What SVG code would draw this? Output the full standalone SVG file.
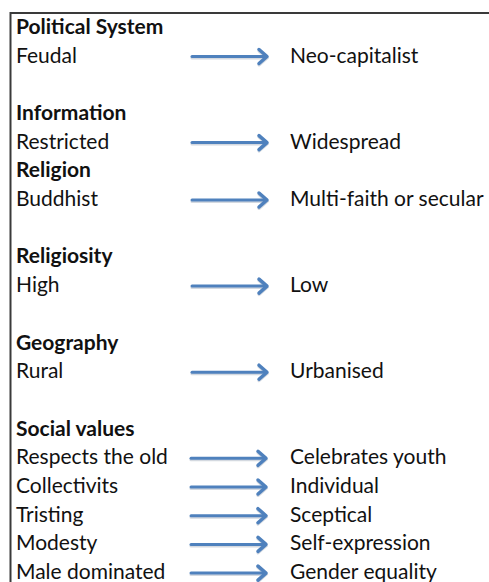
<svg xmlns="http://www.w3.org/2000/svg" width="489" height="582" viewBox="0 0 489 582">
<style>
text{font-family:Lato,"Open Sans","Liberation Sans",sans-serif;font-size:21px;fill:#111}
.h{font-weight:bold}
.sh{stroke:#4f81bd;stroke-width:3;fill:none;stroke-linecap:round}
.hd{stroke:#4f81bd;stroke-width:3.5;fill:none;stroke-linecap:round;stroke-linejoin:round}
.sd{stroke:#b8c0cc;stroke-width:3;fill:none;opacity:0.6;stroke-linecap:round}
</style>
<defs>
<g id="arr">
<path class="sd" d="M192,1.5 L266,1.5 M259,-5.5 L267,1.5 L259,8.5"/>
<path class="sh" d="M192,0 L265,0"/>
<path class="hd" d="M259,-7 L267,0 L259,7"/>
</g>
</defs>
<rect width="489" height="582" fill="#fff"/>
<g id="frame"><path d="M10.5,582 L10.5,13 L489,13" fill="none" stroke="#3a3a3a" stroke-width="2"/></g>
<g id="political"><text class="h" x="16" y="33.8">Political System</text><text x="16" y="62.5">Feudal</text><text x="290" y="62.5">Neo-capitalist</text></g>
<g id="information"><text class="h" x="16" y="119.9">Information</text><text x="16" y="148.6">Restricted</text><text x="290" y="148.6">Widespread</text></g>
<g id="religion"><text class="h" x="16" y="177.3">Religion</text><text x="16" y="206">Buddhist</text><text x="290" y="206">Multi-faith or secular</text></g>
<g id="religiosity"><text class="h" x="16" y="263.4">Religiosity</text><text x="16" y="292.1">High</text><text x="290" y="292.1">Low</text></g>
<g id="geography"><text class="h" x="16" y="349.5">Geography</text><text x="16" y="378.2">Rural</text><text x="290" y="378.2">Urbanised</text></g>
<g id="social"><text class="h" x="16" y="435.6">Social values</text>
<text x="16" y="464.3">Respects the old</text><text x="290" y="464.3">Celebrates youth</text>
<text x="16" y="493">Collectivits</text><text x="290" y="493">Individual</text>
<text x="16" y="521.7">Tristing</text><text x="290" y="521.7">Sceptical</text>
<text x="16" y="550.4">Modesty</text><text x="290" y="550.4">Self-expression</text>
<text x="16" y="579.1">Male dominated</text><text x="290" y="579.1">Gender equality</text></g>
<g id="connectors">
<use href="#arr" y="56.5"/>
<use href="#arr" y="142.6"/>
<use href="#arr" y="200"/>
<use href="#arr" y="286.1"/>
<use href="#arr" y="372.2"/>
<use href="#arr" x="-1" y="458.3"/>
<use href="#arr" x="-1" y="487"/>
<use href="#arr" x="-1" y="515.7"/>
<use href="#arr" x="-1" y="544.4"/>
<use href="#arr" x="-1" y="573.1"/>
</g>
</svg>
